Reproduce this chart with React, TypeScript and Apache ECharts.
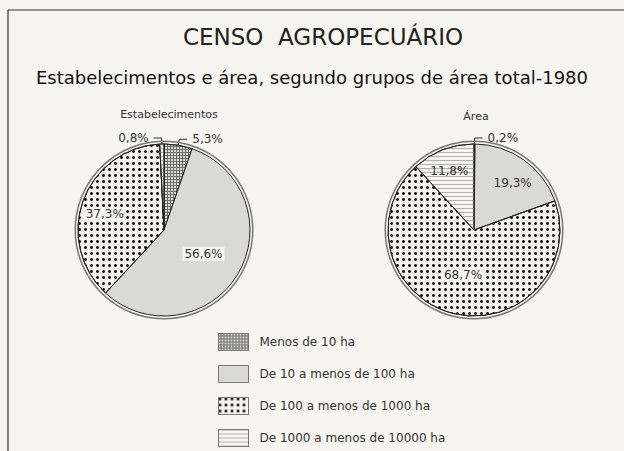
import React, { useEffect, useRef } from "react";
import * as echarts from "echarts";

const categories = [
  "Menos de 10 ha",
  "De 10 a menos de 100 ha",
  "De 100 a menos de 1000 ha",
  "De 1000 a menos de 10000 ha",
];
const estabelecimentos = [5.3, 56.6, 37.3, 0.8];
const area = [0.2, 19.3, 68.7, 11.8];
const pieTitles = ["Estabelecimentos", "Área"];
const mainTitle = "CENSO  AGROPECUÁRIO";
const subTitle = "Estabelecimentos e área, segundo grupos de área total-1980";

const BG = "#f7f5f0";
const FONT = "DejaVu Sans";

const fmt = (v: number) => v.toFixed(1).replace(".", ",") + "%";

const styles: any[] = [
  {
    color: "#6e6e6a",
    borderColor: "#222",
    borderWidth: 1,
    decal: {
      symbol: "rect",
      symbolSize: 1,
      dashArrayX: [2, 1],
      dashArrayY: [2, 1],
      color: "#dcdcd6",
    },
  },
  { color: "#d9d9d5", borderColor: "#222", borderWidth: 1 },
  {
    color: BG,
    borderColor: "#222",
    borderWidth: 1,
    decal: {
      symbol: "circle",
      symbolSize: 1,
      dashArrayX: [3, 3],
      dashArrayY: [3, 3],
      color: "#111",
    },
  },
  {
    color: BG,
    borderColor: "#222",
    borderWidth: 1,
    decal: {
      symbol: "rect",
      symbolSize: 1,
      dashArrayX: [10, 0],
      dashArrayY: [1, 2.5],
      color: "#b0b0aa",
    },
  },
];

function buildData(values: number[], outside: number[], offsets: Record<number, number[]>, boxed: number[]) {
  return values.map((v, i) => {
    const item: any = { name: categories[i], value: v, itemStyle: { ...styles[i] } };
    if (outside.includes(i)) {
      item.label = { position: "outside" };
      item.labelLine = { show: true };
    } else {
      item.label = {
        position: "inside",
        offset: offsets[i] || [0, 0],
        backgroundColor: boxed.includes(i) ? BG : "transparent",
        padding: [1, 2],
      };
      item.labelLine = { show: false };
    }
    return item;
  });
}

export default function App() {
  const ref = useRef<HTMLDivElement>(null);
  useEffect(() => {
    document.body.style.margin = "0";
    const chart = echarts.init(ref.current!, null, { renderer: "svg" });
    const R = 86;
    const leftC = [164, 230];
    const rightC = [474, 230];
    const pieBase = {
      type: "pie",
      radius: R,
      startAngle: 90,
      clockwise: true,
      avoidLabelOverlap: false,
      label: {
        show: true,
        formatter: (p: any) => fmt(p.value),
        fontFamily: FONT,
        fontSize: 12,
        color: "#333",
      },
      labelLine: {
        length: 6,
        length2: 8,
        lineStyle: { color: "#333", width: 1 },
      },
      emphasis: { disabled: true },
    };
    const ring = (c: number[]) => ({
      type: "pie",
      radius: [R + 2, R + 3.5],
      center: c,
      silent: true,
      label: { show: false },
      labelLine: { show: false },
      data: [{ value: 1, name: "", itemStyle: { color: "#777" } }],
      emphasis: { disabled: true },
    });
    chart.setOption({
      animation: false,
      backgroundColor: BG,
      title: [
        {
          text: mainTitle,
          left: 318,
          textAlign: "center",
          top: 20,
          textStyle: { fontFamily: FONT, fontSize: 23, fontWeight: "normal", color: "#222" },
        },
        {
          text: subTitle,
          left: "center",
          top: 63,
          textStyle: { fontFamily: FONT, fontSize: 18, fontWeight: "normal", color: "#111" },
        },
        {
          text: pieTitles[0],
          left: 164,
          textAlign: "center",
          top: 104,
          textStyle: { fontFamily: FONT, fontSize: 11, fontWeight: "normal", color: "#333" },
        },
        {
          text: pieTitles[1],
          left: 471,
          textAlign: "center",
          top: 106,
          textStyle: { fontFamily: FONT, fontSize: 11, fontWeight: "normal", color: "#333" },
        },
      ],
      legend: {
        orient: "vertical",
        left: 213,
        top: 328,
        height: 130,
        itemWidth: 30,
        itemHeight: 17,
        itemGap: 14,
        icon: "rect",
        data: categories,
        selectedMode: false,
        itemStyle: { borderColor: "#777", borderWidth: 1 },
        textStyle: { fontFamily: FONT, fontSize: 12, color: "#333", padding: [0, 0, 0, 6] },
      },
      graphic: [
        { type: "line", shape: { x1: 8, y1: 10, x2: 624, y2: 10 }, style: { stroke: "#333", lineWidth: 1.2 } },
        { type: "line", shape: { x1: 8, y1: 10, x2: 8, y2: 451 }, style: { stroke: "#333", lineWidth: 1.2 } },
      ],
      series: [
        ring(leftC),
        ring(rightC),
        {
          ...pieBase,
          name: pieTitles[0],
          center: leftC,
          data: buildData(estabelecimentos, [0, 3], { 2: [-16, 0] }, [1, 2]),
        },
        {
          ...pieBase,
          name: pieTitles[1],
          center: rightC,
          data: buildData(area, [0], { 1: [12, -10], 3: [-8, -16] }, [2]).map((d, i) =>
            i === 0 ? { ...d, itemStyle: { ...d.itemStyle, color: "#111", decal: undefined } } : d
          ),
        },
      ],
    });
    return () => chart.dispose();
  }, []);
  return <div ref={ref} style={{ width: 624, height: 451, position: "absolute", left: 0, top: 0 }} />;
}
